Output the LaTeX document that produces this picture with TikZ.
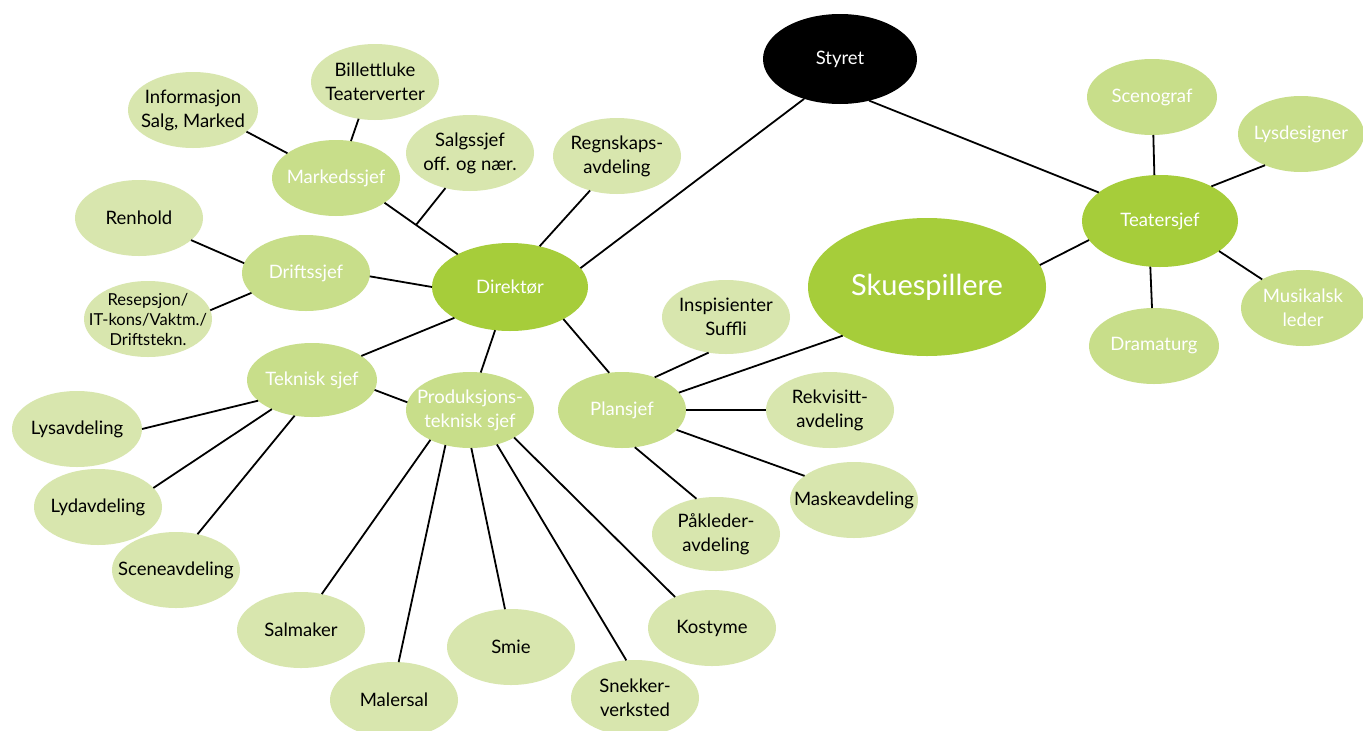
\documentclass[tikz,border=0pt]{standalone}
\usepackage{fontspec}
\setmainfont{Lato}
\usetikzlibrary{shapes.geometric,calc}
\definecolor{palegreen}{HTML}{D8E6AE}
\definecolor{midgreen}{HTML}{C8DE8A}
\definecolor{brightgreen}{HTML}{A6CD3A}
\tikzset{
  bub/.style={ellipse, inner sep=0pt, outer sep=0pt, minimum width=128pt, minimum height=76pt},
  pale/.style={bub, fill=palegreen},
  mid/.style={bub, fill=midgreen},
  bright/.style={bub, fill=brightgreen},
  dk/.style={text=black, align=center, font=\fontsize{18.5}{24}\selectfont},
  wt/.style={text=white, align=center, font=\fontsize{18.5}{24}\selectfont},
  conn/.style={draw=black, line width=1.8pt}
}
\begin{document}
\begin{tikzpicture}[x=1pt,y=-1pt]
\useasboundingbox[fill=white] (0,0) rectangle (1363,731);
% top / right
\node[bub, fill=black, minimum width=154pt, minimum height=90pt, label={[wt]center:Styret}] (sty) at (840,59) {};
\node[bright, minimum width=238pt, minimum height=138pt, label={[wt, font=\fontsize{29}{34}\selectfont]center:Skuespillere}] (sku) at (927,287) {};
\node[bright, minimum width=156pt, minimum height=92pt, label={[wt]center:Teatersjef}] (tea) at (1160,221) {};
\node[mid, minimum width=130pt, label={[wt]center:Scenograf}] (sce) at (1152,97) {};
\node[mid, minimum width=126pt, label={[wt]center:Lysdesigner}] (lys) at (1301,134) {};
\node[mid, minimum width=124pt, label={[wt]center:{Musikalsk\\leder}}] (mus) at (1303,308) {};
\node[mid, minimum width=130pt, label={[wt]center:Dramaturg}] (dra) at (1154,346) {};
% centre
\node[bright, minimum width=156pt, minimum height=88pt, label={[wt]center:Direktør}] (dir) at (510,287) {};
\node[mid, label={[wt]center:Plansjef}] (pla) at (622,410) {};
\node[mid, label={[wt]center:{Produksjons-\\teknisk sjef}}] (pro) at (470,410) {};
\node[mid, minimum width=130pt, minimum height=74pt, label={[wt]center:Teknisk sjef}] (tek) at (312,380) {};
\node[mid, label={[wt]center:Driftssjef}] (drf) at (306,273) {};
\node[mid, label={[wt]center:Markedssjef}] (mar) at (336,178) {};
% pale nodes
\node[pale, minimum width=130pt, label={[dk]center:{Informasjon\\Salg, Marked}}] (inf) at (193,110) {};
\node[pale, label={[dk]center:{Billettluke\\Teaterverter}}] (bil) at (375,82) {};
\node[pale, label={[dk]center:{Salgssjef\\off. og nær.}}] (sgs) at (470,153) {};
\node[pale, label={[dk]center:{Regnskaps-\\avdeling}}] (reg) at (617,156) {};
\node[pale, label={[dk]center:Renhold}] (ren) at (139,218) {};
\node[pale, label={[dk, font=\fontsize{16.5}{20}\selectfont]center:{Resepsjon/\\IT-kons/Vaktm./\\Driftstekn.}}] (res) at (148,319) {};
\node[pale, minimum height=74pt, label={[dk]center:{Inspisienter\\Suffli}}] (ins) at (726,317) {};
\node[pale, label={[dk]center:{Rekvisitt-\\avdeling}}] (rek) at (830,410) {};
\node[pale, label={[dk]center:Maskeavdeling}] (mas) at (854,500) {};
\node[pale, minimum height=74pt, label={[dk]center:{Påkleder-\\avdeling}}] (pak) at (716,534) {};
\node[pale, label={[dk]center:Kostyme}] (kos) at (712,628) {};
\node[pale, label={[dk]center:{Snekker-\\verksted}}] (sne) at (635,698) {};
\node[pale, label={[dk]center:Smie}] (smi) at (511,647) {};
\node[pale, label={[dk]center:Malersal}] (mal) at (394,700) {};
\node[pale, label={[dk]center:Salmaker}] (sal) at (301,630) {};
\node[pale, label={[dk]center:Sceneavdeling}] (sca) at (176,570) {};
\node[pale, label={[dk]center:Lydavdeling}] (lyd) at (98,507) {};
\node[pale, minimum width=130pt, label={[dk]center:Lysavdeling}] (lsa) at (77,429) {};
% connectors
\draw[conn] (inf.-22.5) -- (mar.153.9);
\draw[conn] (bil.-114.7) -- (mar.68.7);
\draw[conn] (mar.-27) -- (dir.148.3);
\coordinate (j) at ($(mar.-27)!0.43!(dir.148.3)$);
\draw[conn] (sgs.-125.5) -- (j);
\draw[conn] (reg.-128.5) -- (dir.54.8);
\draw[conn] (sty.-132.1) -- (dir.15.3);
\draw[conn] (sty.-55.7) -- (tea.155.3);
\draw[conn] (sku.11.2) -- (tea.195.9);
\draw[conn] (tea.97.6) -- (sce.-88.5);
\draw[conn] (tea.34.5) -- (lys.-139.3);
\draw[conn] (tea.-27.8) -- (mus.145.7);
\draw[conn] (tea.-102.5) -- (dra.93);
\draw[conn] (ren.-23.5) -- (drf.171);
\draw[conn] (res.8.3) -- (drf.-160.3);
\draw[conn] (drf.-3.5) -- (dir.180);
\draw[conn] (dir.-151) -- (tek.26.1);
\draw[conn] (dir.-109.2) -- (pro.74.5);
\draw[conn] (dir.-31.6) -- (pla.109.9);
\draw[conn] (tek.-9.9) -- (pro.173.7);
\draw[conn] (pla.45) -- (ins.-116.6);
\draw[conn] (pla.17.5) -- (sku.-150.3);
\draw[conn] (pla.0) -- (rek.180);
\draw[conn] (pla.-20.9) -- (mas.154.9);
\draw[conn] (pla.-71.1) -- (pak.119.6);
\draw[conn] (lsa.0) -- (tek.-159.3);
\draw[conn] (lyd.19.7) -- (tek.-144.1);
\draw[conn] (sca.59.7) -- (tek.-116.6);
\draw[conn] (sal.60.4) -- (pro.-143.6);
\draw[conn] (mal.83.8) -- (pro.-125.8);
\draw[conn] (smi.99) -- (pro.-88.5);
\draw[conn] (sne.103.7) -- (pro.-52.1);
\draw[conn] (kos.140.8) -- (pro.-32.8);
\end{tikzpicture}
\end{document}
